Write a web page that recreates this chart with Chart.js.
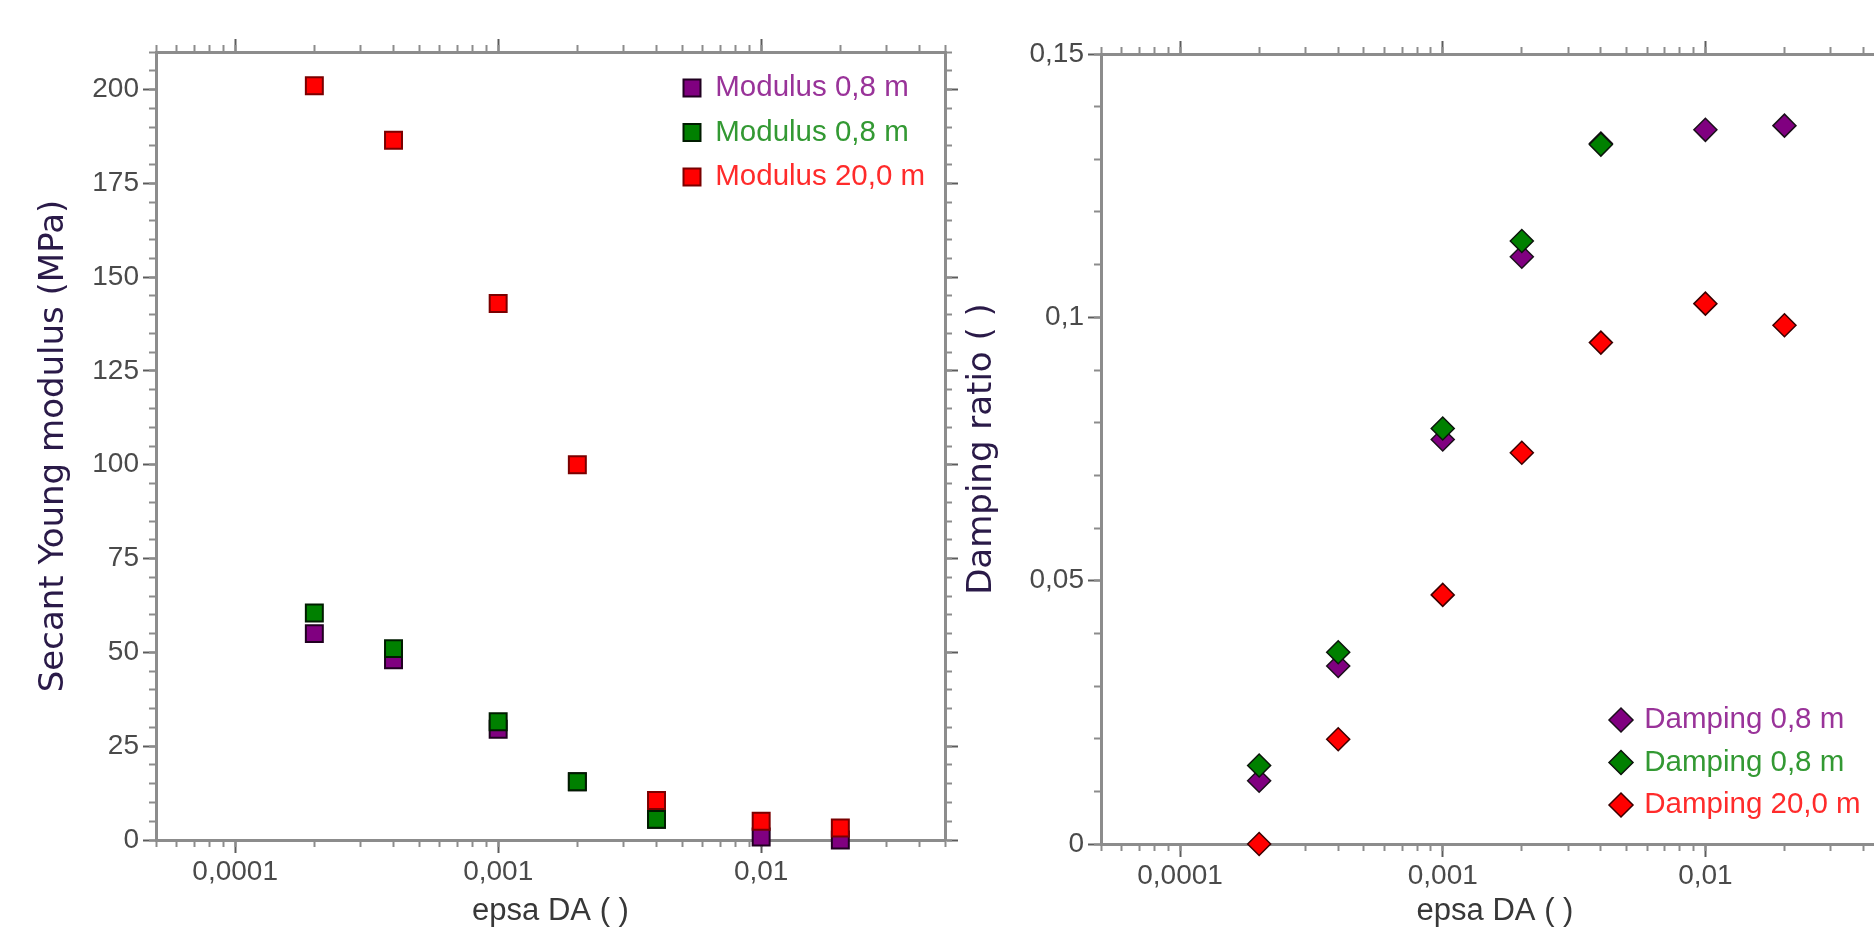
<!DOCTYPE html>
<html lang="en">
<head>
<meta charset="UTF-8">
<title>Secant modulus and damping vs strain</title>
<style>
  html, body { margin: 0; padding: 0; background: #fff; overflow: hidden; }
  #wrap { position: relative; width: 1874px; height: 928px; overflow: hidden; }
  canvas { position: absolute; top: 0; }
</style>
</head>
<body>
<div id="wrap">
  <canvas id="modChart" width="960" height="928" style="left:0;width:960px;height:928px"></canvas>
  <canvas id="dampChart" width="960" height="928" style="left:960px;width:960px;height:928px"></canvas>
</div>

<script src="https://cdn.jsdelivr.net/npm/chart.js"></script>
<script>
// strain levels (epsa DA)
const strain = [0.0002, 0.0004, 0.001, 0.002, 0.004, 0.01, 0.02];

// secant Young modulus (MPa)
const modulusPurple = [55, 48, 29.5, 15.5, 5.5, 0.8, 0];
const modulusGreen = [60.5, 51, 31.5, 15.5, 5.5];
const modulusRed = [201, 186.5, 143, 100, 10.5, 5, 3.2];

// damping ratio
const dampingPurple = [0.012, 0.0338, 0.0768, 0.1115, 0.133, 0.1356, 0.1364];
const dampingGreen = [0.0149, 0.0364, 0.0789, 0.1145, 0.1328];
const dampingRed = [0, 0.0199, 0.0473, 0.0743, 0.0952, 0.1026, 0.0985];

const modulusNames = ['Modulus 0,8 m', 'Modulus 0,8 m', 'Modulus 20,0 m'];
const dampingNames = ['Damping 0,8 m', 'Damping 0,8 m', 'Damping 20,0 m'];

const xTicks = [0.0001, 0.001, 0.01];
const xTickLabels = ['0,0001', '0,001', '0,01'];
const modulusTicks = [0, 25, 50, 75, 100, 125, 150, 175, 200];
const modulusTickLabels = ['0', '25', '50', '75', '100', '125', '150', '175', '200'];
const dampingTicks = [0, 0.05, 0.1, 0.15];
const dampingTickLabels = ['0', '0,05', '0,1', '0,15'];

const fills = ['#800080', '#008000', '#ff0000'];
const squareEdges = ['#200020', '#001c00', '#7a0000'];
const diamondEdges = ['#1a101a', '#0c140c', '#3a0000'];
const legendColors = ['#993399', '#339933', '#ff2b2b'];

const frameColor = '#8c8c8c';
const tickFont = { family: "'Liberation Sans', Arial, sans-serif", size: 28 };
const legendFont = { family: "'Liberation Sans', Arial, sans-serif", size: 29.5 };
const yTitleFont = { family: "'DejaVu Sans', Verdana, sans-serif", size: 34, lineHeight: 1 };
const xTitleFont = { family: "'Liberation Sans', Arial, sans-serif", size: 31, lineHeight: 1 };

// minor ticks of the log axis: 1..9 in every decade
const minorX = [];
for (let e = -5; e <= -2; e++) {
  for (let m = 1; m <= 9; m++) {
    const v = m * Math.pow(10, e);
    if (v > 4.9e-5 && v < 0.0501) minorX.push(v);
  }
}

function axis(pos, major, size, yMax, values) {
  const isX = pos === 'top' || pos === 'bottom';
  return {
    type: isX ? 'logarithmic' : 'linear',
    position: pos,
    min: isX ? 5e-5 : 0,
    max: isX ? 0.05 : yMax,
    weight: major ? 1 : 0,
    afterFit: s => { if (isX) s.height = size; else s.width = size; },
    afterBuildTicks: s => { s.ticks = values.map(v => ({ value: v })); },
    grid: {
      drawOnChartArea: false,
      tickLength: major ? 13 : 7,
      tickWidth: 2,
      tickColor: major ? '#5c5c5c' : frameColor
    },
    border: { display: !major, color: frameColor, width: 3 },
    ticks: { display: false }
  };
}

function labelled(a, labels, pad, title, font, titlePad, titleColor) {
  a.ticks = {
    display: true, autoSkip: false, maxRotation: 0, padding: pad,
    font: tickFont, color: '#4a4a4a',
    callback: (v, i) => labels[i]
  };
  a.title = { display: true, text: title, font: font, color: titleColor, padding: titlePad };
  return a;
}

function makeSets(names, series, style, radius, edges, width) {
  return series.map((vals, i) => ({
    label: names[i],
    data: vals.map((v, k) => ({ x: strain[k], y: v })),
    backgroundColor: fills[i],
    borderColor: edges[i],
    borderWidth: width,
    pointStyle: style,
    pointRadius: radius,
    pointHoverRadius: radius,
    showLine: false,
    clip: false,
    order: 3 - i
  }));
}

// moves the built-in legend to a fixed spot inside the plot
const placeLegend = {
  id: 'placeLegend',
  beforeDraw(chart, args, opts) {
    const lg = chart.legend;
    if (!lg) return;
    lg.left = opts.x - opts.pad - opts.box / 2;
    lg.top = opts.y - opts.pad - opts.size / 2;
    lg.bottom = chart.height;
  }
};

function makeChart(id, o) {
  const minorY = [];
  const n = Math.round(o.yMax / o.yStep);
  for (let k = 0; k <= n; k++) minorY.push(k * o.yStep);

  const leftW = o.area.left, rightW = 960 - o.area.right;
  const topH = o.area.top, bottomH = 928 - o.area.bottom;

  const scales = {
    x: labelled(axis('bottom', true, bottomH, o.yMax, xTicks), xTickLabels, 2,
      'epsa DA ( )', xTitleFont, { top: 0, bottom: 1.5 }, '#383838'),
    xMinor: axis('bottom', false, 0, o.yMax, minorX),
    xTop: axis('top', true, topH, o.yMax, xTicks),
    xTopMinor: axis('top', false, 0, o.yMax, minorX),
    y: labelled(axis('left', true, leftW, o.yMax, o.yTicks), o.yLabels, 4,
      o.yTitle, yTitleFont, { top: o.yTitlePad, bottom: 0 }, '#2a1a48'),
    yMinor: axis('left', false, 0, o.yMax, minorY),
    yRight: axis('right', true, rightW, o.yMax, o.yTicks),
    yRightMinor: axis('right', false, 0, o.yMax, minorY)
  };

  return new Chart(document.getElementById(id), {
    type: 'scatter',
    data: { datasets: o.sets },
    plugins: [placeLegend],
    options: {
      responsive: false,
      animation: false,
      devicePixelRatio: 1,
      events: [],
      layout: { padding: 0 },
      scales: scales,
      plugins: {
        tooltip: { enabled: false },
        legend: {
          position: 'chartArea',
          align: 'start',
          labels: {
            usePointStyle: true,
            boxWidth: 17,
            boxHeight: 17,
            padding: o.legendPad,
            font: legendFont,
            sort: (a, b) => a.datasetIndex - b.datasetIndex,
            generateLabels: chart =>
              Chart.defaults.plugins.legend.labels.generateLabels(chart)
                .map(it => Object.assign(it, { fontColor: legendColors[it.datasetIndex] }))
          }
        },
        placeLegend: { x: o.legendAt[0], y: o.legendAt[1], pad: o.legendPad, box: 17, size: legendFont.size }
      }
    }
  });
}

makeChart('modChart', {
  area: { left: 156, right: 945, top: 52, bottom: 840 },
  yMax: 210, yStep: 5,
  yTicks: modulusTicks, yLabels: modulusTickLabels,
  yTitle: 'Secant Young modulus (MPa)', yTitlePad: 37,
  sets: makeSets(modulusNames, [modulusPurple, modulusGreen, modulusRed], 'rect', 12, squareEdges, 2),
  legendAt: [692, 88], legendPad: 15
});

makeChart('dampChart', {
  area: { left: 141, right: 929, top: 54, bottom: 844 },
  yMax: 0.15, yStep: 0.01,
  yTicks: dampingTicks, yLabels: dampingTickLabels,
  yTitle: 'Damping ratio ( )', yTitlePad: 5,
  sets: makeSets(dampingNames, [dampingPurple, dampingGreen, dampingRed], 'rectRot', 11.5, diamondEdges, 1.5),
  legendAt: [661, 720], legendPad: 13
});
</script>
</body>
</html>
